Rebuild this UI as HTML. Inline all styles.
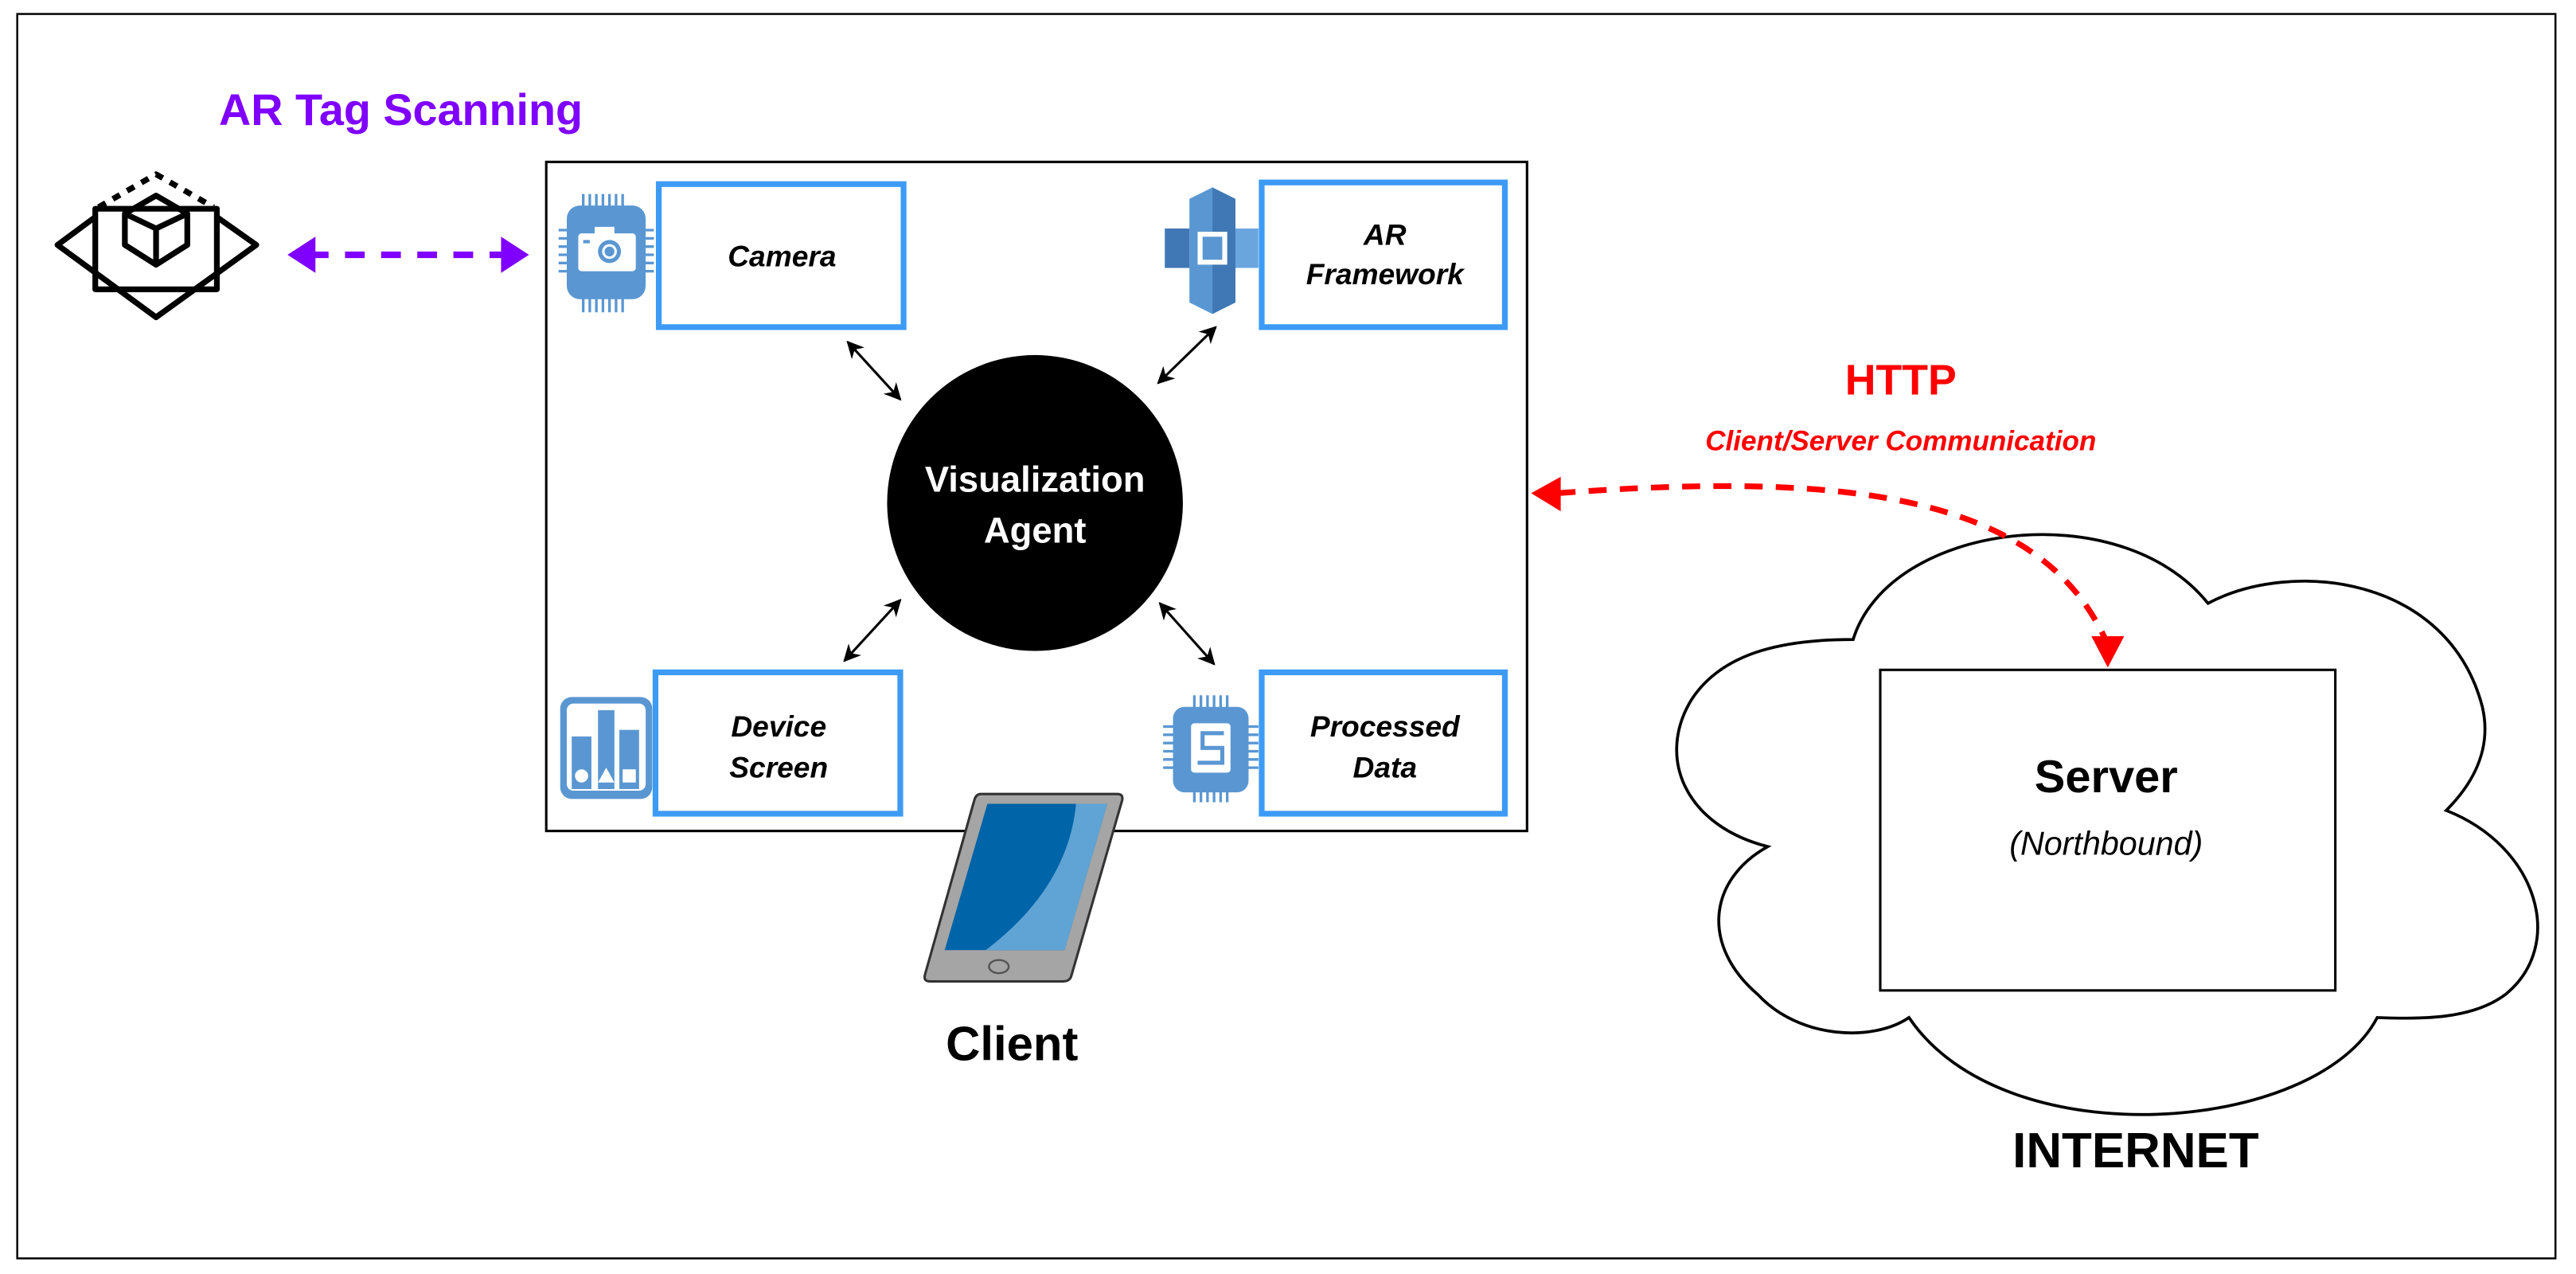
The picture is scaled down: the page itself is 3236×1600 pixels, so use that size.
<!DOCTYPE html>
<html><head><meta charset="utf-8"><style>
html,body{margin:0;padding:0;background:#fff;}
svg{display:block;}
text{font-family:"Liberation Sans",Arial,sans-serif;}
</style></head><body>
<svg width="3236" height="1600" viewBox="0 0 1568 775" preserveAspectRatio="none" xmlns="http://www.w3.org/2000/svg">
<defs>
<marker id="bk" viewBox="0 0 10 10" refX="9" refY="5" markerWidth="7" markerHeight="7" orient="auto-start-reverse"><path d="M0,0 L10,5 L0,10 L3,5 Z" fill="#000"/></marker>
</defs>
<rect width="1568" height="775" fill="#fff"/>
<rect x="10.5" y="8.5" width="1545" height="757" fill="none" stroke="#000" stroke-width="1.2"/>

<!-- AR Tag Scanning -->
<text x="244" y="76" font-size="27" font-weight="bold" fill="#7f00ff" text-anchor="middle">AR Tag Scanning</text>
<!-- AR icon -->
<g fill="none" stroke="#000" stroke-width="3.5" stroke-linejoin="round">
<path d="M58,132 L35,149 L95,193 L156,149 L132,132"/>
<rect x="58" y="127" width="74" height="49"/>
<path d="M95,119 L114,130 L114,149 L95,161 L76,149 L76,130 Z"/>
<path d="M76,130 L95,139 L114,130 M95,139 L95,161"/>
<path d="M60,126 L95,106 L130,126" stroke-dasharray="5,5"/>
</g>
<!-- purple dashed arrow -->
<line x1="188" y1="155" x2="306" y2="155" stroke="#7f00ff" stroke-width="4" stroke-dasharray="12,10"/>
<path d="M175,155 L192,144 L192,166 Z" fill="#7f00ff"/>
<path d="M322,155 L305,144 L305,166 Z" fill="#7f00ff"/>

<!-- main box -->
<rect x="332.5" y="98.5" width="597" height="407" fill="#fff" stroke="#000" stroke-width="1.5"/>

<!-- component boxes -->
<g fill="#fff" stroke="#3d9bf5" stroke-width="3.5">
<rect x="401" y="112" width="149" height="87"/>
<rect x="768" y="111" width="148" height="88"/>
<rect x="399" y="409" width="149" height="86"/>
<rect x="768" y="409" width="148" height="86"/>
</g>
<g font-size="18" font-weight="bold" font-style="italic" fill="#000" text-anchor="middle">
<text x="476" y="162">Camera</text>
<text x="843" y="149">AR</text>
<text x="843" y="173">Framework</text>
<text x="474" y="448">Device</text>
<text x="474" y="473">Screen</text>
<text x="843" y="448">Processed</text>
<text x="843" y="473">Data</text>
</g>

<!-- camera chip icon -->
<g>
<g stroke="#5a97d2" stroke-width="1.6">
<path d="M355,118v10M359,118v10M363,118v10M367,118v10M371,118v10M375,118v10M379,118v10"/>
<path d="M355,180v10M359,180v10M363,180v10M367,180v10M371,180v10M375,180v10M379,180v10"/>
<path d="M340,140h10M340,145h10M340,150h10M340,155h10M340,160h10M340,165h10"/>
<path d="M388,140h10M388,145h10M388,150h10M388,155h10M388,160h10M388,165h10"/>
</g>
<rect x="345" y="125" width="48" height="57" rx="8" fill="#5a97d2"/>
<rect x="352" y="142" width="35" height="23" rx="2" fill="#fff"/>
<rect x="362" y="138" width="12" height="5" fill="#fff"/>
<circle cx="371" cy="153" r="7" fill="#5a97d2"/><circle cx="371" cy="153" r="4.5" fill="#fff"/><circle cx="371" cy="153" r="3" fill="#5a97d2"/>
<rect x="355" y="146" width="4" height="2" fill="#5a97d2"/>
</g>

<!-- AR framework icon -->
<g>
<path d="M738,114 L752,121 L752,184 L738,191 L724,184 L724,121 Z" fill="#5a97d2"/>
<path d="M738,114 L752,121 L752,184 L738,191 Z" fill="#3f78b5"/>
<rect x="709" y="139" width="15" height="24" fill="#3f78b5"/>
<rect x="752" y="139" width="14" height="24" fill="#6aa6dd"/>
<rect x="729" y="141" width="18" height="20" fill="#fff"/>
<rect x="732" y="144" width="12" height="14" fill="#5a97d2"/>
</g>

<!-- device screen icon -->
<g>
<rect x="341" y="424" width="56" height="62" rx="7" fill="#5a97d2"/>
<rect x="345" y="428" width="48" height="53" rx="4" fill="#fff"/>
<rect x="348" y="448" width="12" height="32" fill="#5a97d2"/>
<rect x="364" y="432" width="10" height="48" fill="#5a97d2"/>
<rect x="377" y="444" width="12" height="36" fill="#5a97d2"/>
<circle cx="354" cy="472" r="4" fill="#fff"/>
<path d="M369,467 L374,476 L364,476 Z" fill="#fff"/>
<rect x="379" y="468" width="8" height="8" fill="#fff"/>
</g>

<!-- processed data chip icon -->
<g>
<g stroke="#5a97d2" stroke-width="1.6">
<path d="M727,423v10M731,423v10M735,423v10M739,423v10M743,423v10M747,423v10"/>
<path d="M727,478v10M731,478v10M735,478v10M739,478v10M743,478v10M747,478v10"/>
<path d="M708,442h10M708,447h10M708,452h10M708,457h10M708,462h10M708,467h10"/>
<path d="M756,442h10M756,447h10M756,452h10M756,457h10M756,462h10M756,467h10"/>
</g>
<rect x="714" y="430" width="46" height="52" rx="7" fill="#5a97d2"/>
<rect x="725" y="440" width="24" height="30" rx="2" fill="#fff"/>
<path d="M745,446 H732 V455 H744 V464 H729" fill="none" stroke="#5a97d2" stroke-width="2.5"/>
</g>

<!-- visualization agent -->
<ellipse cx="630" cy="306" rx="90" ry="90" fill="#000"/>
<text x="630" y="299" font-size="22" font-weight="bold" fill="#fff" text-anchor="middle">Visualization</text>
<text x="630" y="330" font-size="22" font-weight="bold" fill="#fff" text-anchor="middle">Agent</text>

<!-- small arrows -->
<g stroke="#000" stroke-width="1.5" marker-start="url(#bk)" marker-end="url(#bk)">
<line x1="516" y1="208" x2="548" y2="243"/>
<line x1="740" y1="199" x2="705" y2="233"/>
<line x1="548" y1="365" x2="514" y2="402"/>
<line x1="706" y1="367" x2="739" y2="404"/>
</g>

<!-- tablet -->
<g>
<path d="M597,483 L680,483 Q684,483 683,487 L652,594 Q651,597 647,597 L566,597 Q562,597 563,593 L593,487 Q594,483 597,483 Z" fill="#a5a5a5" stroke="#333" stroke-width="1.5"/>
<path d="M601,489 L674,489 L648,578 L575,578 Z" fill="#0064a8"/>
<path d="M655,489 L674,489 L648,578 L600,578 Q650,540 655,489 Z" fill="#5fa4d4"/>
<ellipse cx="608" cy="588" rx="6" ry="4" fill="none" stroke="#555" stroke-width="1.2"/>
</g>
<text x="616" y="645" font-size="29" font-weight="bold" fill="#000" text-anchor="middle">Client</text>

<!-- HTTP -->
<text x="1157" y="240" font-size="26" font-weight="bold" fill="#ff0000" text-anchor="middle">HTTP</text>
<text x="1157" y="274" font-size="17" font-weight="bold" font-style="italic" fill="#ff0000" text-anchor="middle">Client/Server Communication</text>

<!-- cloud -->
<path d="M1128,389 C1150,318 1290,300 1344,367 C1395,340 1490,350 1511,430 C1518,460 1500,482 1489,493 C1545,515 1562,575 1525,605 C1505,620 1475,620 1447,619 C1410,690 1220,705 1162,619 C1140,634 1095,632 1070,605 C1035,575 1040,535 1076,515 C1025,502 1008,460 1030,425 C1050,395 1090,389 1128,389 Z" fill="#fff" stroke="#000" stroke-width="1.8"/>

<!-- red dashed curve -->
<path d="M948,300 C1110,288 1240,296 1282,390" fill="none" stroke="#ff0000" stroke-width="3.5" stroke-dasharray="11,8"/>
<path d="M932,300 L950,290 L950,311 Z" fill="#ff0000"/>
<path d="M1283,406 L1273,387 L1293,387 Z" fill="#ff0000"/>

<!-- server -->
<rect x="1144.5" y="407.5" width="277" height="195" fill="#fff" stroke="#000" stroke-width="1.5"/>
<text x="1282" y="482" font-size="28" font-weight="bold" fill="#000" text-anchor="middle">Server</text>
<text x="1282" y="520" font-size="20" font-style="italic" fill="#000" text-anchor="middle">(Northbound)</text>

<text x="1300" y="710" font-size="30" font-weight="bold" fill="#000" text-anchor="middle">INTERNET</text>
</svg>
</body></html>
